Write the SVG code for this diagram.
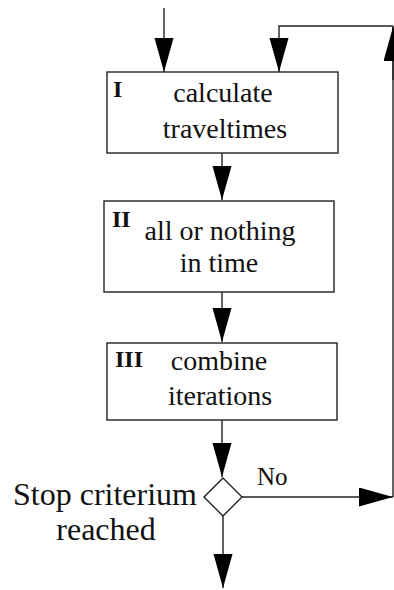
<svg xmlns="http://www.w3.org/2000/svg" width="394" height="590" viewBox="0 0 394 590" font-family="'Liberation Serif', 'Times New Roman', 'DejaVu Serif', serif">
<style>
.box{fill:#fff;stroke:#222;stroke-width:1.4}
.ln{fill:none;stroke:#222;stroke-width:1.4}
text{font-family:'Liberation Serif','Times New Roman','DejaVu Serif',serif;fill:#111}
.t{font-size:28px;text-anchor:middle}
.n{font-size:24px;font-weight:bold}
.lb{font-size:32px;text-anchor:middle}
.no{font-size:25px}
</style>
<defs>
<marker id="ah" markerUnits="userSpaceOnUse" markerWidth="36" markerHeight="20" refX="34" refY="9.5" orient="auto" viewBox="0 0 36 20">
<path d="M0,0 L34,9.5 L0,19 z" fill="#000"/>
</marker>
</defs>
<g id="connectors">
<path class="ln" d="M164,8 V72" marker-end="url(#ah)"/>
<path class="ln" d="M222,153 V200" marker-end="url(#ah)"/>
<path class="ln" d="M222,292 V342" marker-end="url(#ah)"/>
<path class="ln" d="M222,420 V477" marker-end="url(#ah)"/>
<path class="ln" d="M223,516 V588" marker-end="url(#ah)"/>
<path class="ln" d="M242,497 H393" marker-end="url(#ah)"/>
<path class="ln" d="M393,497 V26"/>
<path class="ln" d="M393,80 V27" marker-end="url(#ah)"/>
<path class="ln" d="M393,26 H279 V72" marker-end="url(#ah)"/>
<text class="no" x="257" y="485">No</text>
</g>
<g id="node-I">
<rect class="box" x="107" y="72" width="231" height="81"/>
<text class="n" x="113" y="97">I</text>
<text class="t" x="223" y="102">calculate</text>
<text class="t" x="225" y="138">traveltimes</text>
</g>
<g id="node-II">
<rect class="box" x="104" y="201" width="230" height="91"/>
<text class="n" x="112" y="227">II</text>
<text class="t" x="220" y="240">all or nothing</text>
<text class="t" x="219" y="272">in time</text>
</g>
<g id="node-III">
<rect class="box" x="107" y="343" width="230" height="77"/>
<text class="n" x="115" y="367">III</text>
<text class="t" x="219" y="370">combine</text>
<text class="t" x="220" y="405">iterations</text>
</g>
<g id="node-stop">
<path class="box" d="M223,478 L242,497 L223,516 L204,497 z"/>
<text class="lb" x="105" y="505">Stop criterium</text>
<text class="lb" x="106" y="540">reached</text>
</g>
</svg>
